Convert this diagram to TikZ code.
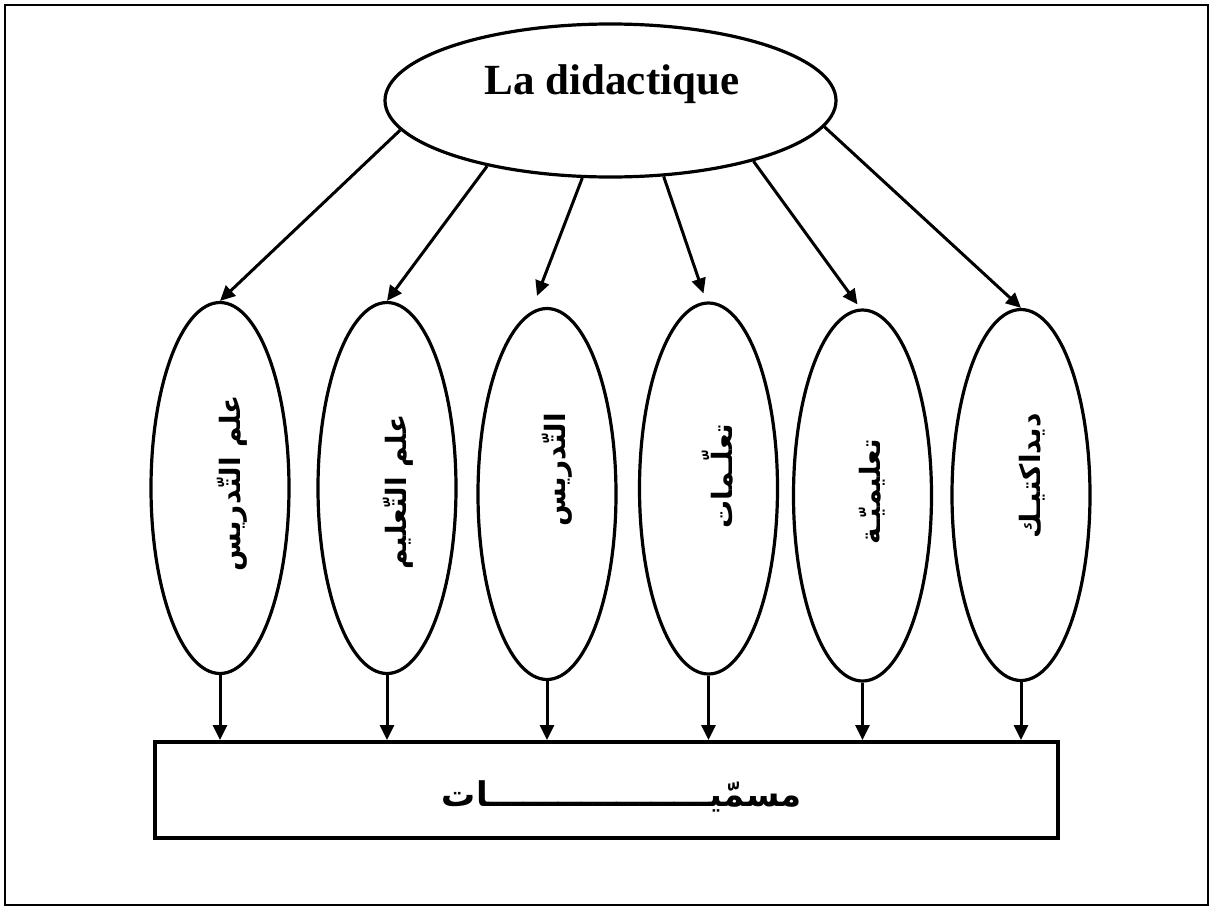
\documentclass[tikz,border=0pt]{standalone}
\usepackage{fontspec}
\usetikzlibrary{shapes.geometric,arrows.meta,calc}
\setmainfont{Liberation Serif}
\newfontfamily\arabicfont[Script=Arabic]{DejaVu Sans}
\TeXXeTstate=1

\begin{document}
\begin{tikzpicture}[x=1pt,y=-1pt,
  oval/.style={draw,ellipse,line width=3.2pt,inner sep=0pt,
    minimum width=138pt,minimum height=371pt},
  topoval/.style={draw,ellipse,line width=3.2pt,inner sep=0pt,
    minimum width=451pt,minimum height=153pt},
  vlabel/.style={rotate=90,inner sep=0pt,
    font=\arabicfont\bfseries\fontsize{28}{32}\selectfont},
  link/.style={line width=3pt,-{Triangle[length=15pt,width=14pt]}},
  frame/.style={line width=2.5pt},
]
\useasboundingbox (0,0) rectangle (1213,910);
\draw[frame] (5,5) rectangle (1208,905);

% root
\node[topoval] (top) at (610.5,100.5) {};
\node[inner sep=0pt,font=\bfseries\fontsize{43}{50}\selectfont] (toptext) at (612,84) {La didactique};

% the six names
\node[oval] (e1) at (220,488) {};
\node[oval] (e2) at (387,488) {};
\node[oval] (e3) at (547,494) {};
\node[oval] (e4) at (708.5,488.5) {};
\node[oval] (e5) at (862.5,495.5) {};
\node[oval] (e6) at (1021,495) {};

\node[vlabel] (t1) at (232,483) {\beginR علم التّدريس\endR};
\node[vlabel] (t2) at (398,492) {\beginR علم التّعليم\endR};
\node[vlabel] (t3) at (557,470) {\beginR التّدريس\endR};
\node[vlabel] (t4) at (718,476) {\beginR تعلّـمات\endR};
\node[vlabel] (t5) at (872,492) {\beginR تعليميّـة\endR};
\node[vlabel] (t6) at (1032,476) {\beginR ديداكتيـك\endR};

% common box
\node[draw,line width=4pt,inner sep=0pt,minimum width=903pt,minimum height=96pt] (box) at (606.5,790) {};
\node[inner sep=0pt,font=\arabicfont\bfseries\fontsize{34}{40}\selectfont] (boxtext) at (622,796)
  {\beginR مسمّيـــــــــــــــــــات\endR};

% arrows from the root
\draw[link] (top.188) -- (e1.north);
\draw[link] (top.208) -- (e2.north);
\draw[link] (top.250) -- ($(e3.north)+(-10,-11)$);
\draw[link] (top.305) -- ($(e4.north)+(-5,-8)$);
\draw[link] (top.337) -- ($(e5.north)+(-5,-4)$);
\draw[link] (top.353) -- (e6.north);

% arrows into the box
\foreach \e in {e1,e2,e3,e4,e5,e6}
  \draw[link] (\e.south) -- (\e.south |- box.north);
\end{tikzpicture}
\end{document}
